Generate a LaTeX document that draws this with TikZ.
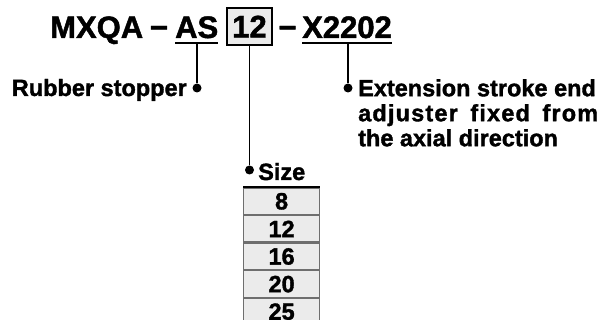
\documentclass[tikz,border=0pt]{standalone}
\usepackage{fontspec}
\setmainfont{Liberation Sans}[BoldFeatures={FakeBold=1.5}]
\definecolor{cellgray}{HTML}{EBEBEB}
\definecolor{cellline}{HTML}{6E6E6E}
\tikzset{
  title/.style={inner sep=0pt, anchor=base west, font=\fontsize{31}{32}\selectfont\bfseries},
  lbl/.style={inner sep=0pt, font=\fontsize{23.5}{25}\selectfont\bfseries},
  uline/.style={line width=2pt},
  conn/.style={line width=1.6pt},
  dot/.style={circle, fill=black, inner sep=0pt, minimum size=9pt},
  cell/.style={draw=cellline, line width=1.2pt, fill=cellgray, minimum width=76pt, minimum height=26.4pt, inner sep=0pt, font=\fontsize{23.5}{25}\selectfont\bfseries},
}
\begin{document}
\begin{tikzpicture}[x=1pt,y=-1pt]
\useasboundingbox (0,0) rectangle (602,320);
% title
\node[title] (mxqa) at (50,38) {MXQA};
\node[title, anchor=base] (dashA) at (159,38) {−};
\node[title] (as) at (175,38) {AS};
\node[draw, line width=1.5pt, fill=cellgray, minimum width=45pt, minimum height=37pt, inner sep=0pt, font=\fontsize{31}{32}\selectfont\bfseries] (sz) at (249.5,26.5) {12};
\node[title, anchor=base] (dashB) at (287.5,38) {−};
\node[title] (xx) at (302,38) {X2202};
\draw[uline] ([yshift=-5pt]as.south west) -- ([yshift=-5pt]as.south east);
\draw[uline] ([yshift=-5pt]xx.south west) -- ([yshift=-5pt]xx.south east);
\coordinate (asu) at (197,44);
\coordinate (xxu) at (348,44);
% dots
\node[dot] (d1) at (197,88) {};
\node[dot] (d2) at (348,88) {};
\node[dot] (d3) at (249.5,170) {};
\draw[conn] (asu) -- (d1);
\draw[conn] (xxu) -- (d2);
\draw[conn] (sz.south) -- (d3);
% labels
\node[lbl, anchor=base east] (rs) at (187,96) {Rubber stopper};
\node[lbl, anchor=north west, align=left] (ext) at (358,79)
  {Extension stroke end\\\hbox to 240pt{\addfontfeature{LetterSpace=5}adjuster\hfill fixed\hfill from}\\the axial direction};
\node[lbl, anchor=base west] (size) at (258,180) {Size};
% table
\node[cell, anchor=north west] (c1) at (243,187.5) {8};
\node[cell, anchor=north] (c2) at (c1.south) {12};
\node[cell, anchor=north] (c3) at (c2.south) {16};
\node[cell, anchor=north] (c4) at (c3.south) {20};
\node[cell, anchor=north] (c5) at (c4.south) {25};
\draw[line width=2pt] (c1.north west) -- (c1.north east);
\end{tikzpicture}
\end{document}
